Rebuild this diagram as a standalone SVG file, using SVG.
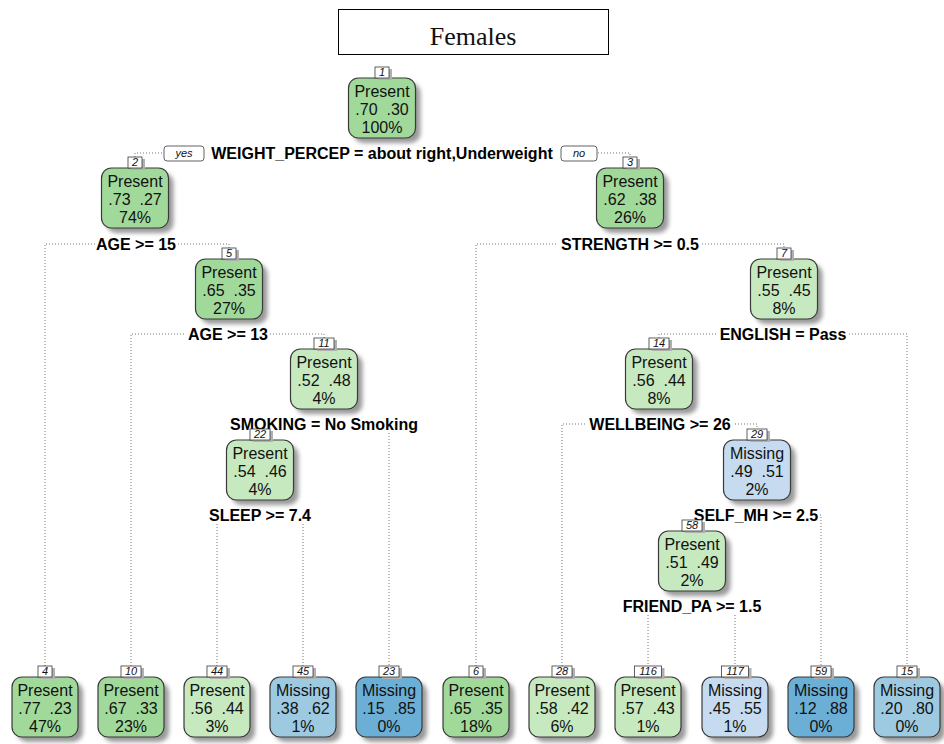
<svg xmlns="http://www.w3.org/2000/svg" width="944" height="744" viewBox="0 0 944 744">
<style>
.bg{fill:#fff}
.title{fill:#fff;stroke:#000;stroke-width:1}
.tt{font-family:"Liberation Serif","Times New Roman",serif;font-size:26px;text-anchor:middle;fill:#111}
.box{stroke:#3a3a3a;stroke-width:1.2}
.sh{fill:#9a9a9a;filter:url(#blur)}
.g1{fill:#a1d99b}
.g2{fill:#c7e9c0}
.b1{fill:#c6dbef}
.b2{fill:#9ecae1}
.b3{fill:#6baed6}
.lbox{fill:#fff;stroke:#3a3a3a;stroke-width:0.8}
.lsh{fill:#b0b0b0}
.lt{font-family:"Liberation Sans",Arial,sans-serif;font-size:11px;font-style:italic;text-anchor:middle;fill:#111}
.nt{font-family:"Liberation Sans",Arial,sans-serif;font-size:16px;text-anchor:middle;fill:#111}
.sp{font-family:"Liberation Sans",Arial,sans-serif;font-size:16px;font-weight:bold;text-anchor:middle;fill:#000}
.ln{fill:none;stroke:#777;stroke-width:1;stroke-dasharray:1 2}
.yn{fill:#fff;stroke:#3a3a3a;stroke-width:0.8}
</style>
<defs>
<filter id="blur" x="-30%" y="-30%" width="160%" height="160%"><feGaussianBlur stdDeviation="2"/></filter>
</defs>
<rect class="bg" x="0" y="0" width="944" height="744"/>
<g id="title">
<rect class="title" x="338.5" y="9.5" width="270" height="45"/>
<text class="tt" x="473" y="45">Females</text>
</g>
<g id="connectors">
<path class="ln" d="M135,157 V153 H163"/>
<path class="ln" d="M598,153 H630 V157"/>
<path class="ln" d="M45,666 V244 H95"/>
<path class="ln" d="M178,244 H229 V248"/>
<path class="ln" d="M476,666 V244 H557"/>
<path class="ln" d="M702,244 H784 V248"/>
<path class="ln" d="M131,666 V334 H186"/>
<path class="ln" d="M270,334 H324 V338"/>
<path class="ln" d="M659,338 V334 H717"/>
<path class="ln" d="M849,334 H907 V666"/>
<path class="ln" d="M389,433 V666"/>
<path class="ln" d="M562,666 V424 H585"/>
<path class="ln" d="M735,424 H757 V429"/>
<path class="ln" d="M217,524 V666"/>
<path class="ln" d="M303,524 V666"/>
<path class="ln" d="M820,515 H821 V666"/>
<path class="ln" d="M648,615 V666"/>
<path class="ln" d="M735,615 V666"/>
</g>
<g id="splits">
<rect class="yn" x="164" y="146" width="40" height="15" rx="3"/>
<text class="lt" x="184" y="157">yes</text>
<text class="sp" x="382" y="159">WEIGHT_PERCEP = about right,Underweight</text>
<rect class="yn" x="561" y="146" width="36" height="15" rx="3"/>
<text class="lt" x="579" y="157">no</text>
<text class="sp" x="136" y="250">AGE &gt;= 15</text>
<text class="sp" x="630" y="250">STRENGTH &gt;= 0.5</text>
<text class="sp" x="228" y="340">AGE &gt;= 13</text>
<text class="sp" x="783" y="340">ENGLISH = Pass</text>
<text class="sp" x="324" y="430">SMOKING = No Smoking</text>
<text class="sp" x="660" y="430">WELLBEING &gt;= 26</text>
<text class="sp" x="260" y="521">SLEEP &gt;= 7.4</text>
<text class="sp" x="756" y="521">SELF_MH &gt;= 2.5</text>
<text class="sp" x="692" y="612">FRIEND_PA &gt;= 1.5</text>
</g>
<g id="node1" transform="translate(382,78)">
<rect class="sh" x="-28.5" y="5" width="67" height="60" rx="10"/>
<rect class="box g1" x="-33.5" y="0" width="67" height="60" rx="10"/>
<rect class="lsh" x="-4" y="-9" width="14" height="11"/>
<rect class="lbox" x="-7" y="-11" width="14" height="11"/>
<text class="lt" x="0" y="-2">1</text>
<text class="nt" x="0" y="19">Present</text>
<text class="nt" x="0" y="37">.70&#160;&#160;.30</text>
<text class="nt" x="0" y="55">100%</text>
</g>
<g id="node2" transform="translate(135,168)">
<rect class="sh" x="-28.5" y="5" width="67" height="60" rx="10"/>
<rect class="box g1" x="-33.5" y="0" width="67" height="60" rx="10"/>
<rect class="lsh" x="-4" y="-9" width="14" height="11"/>
<rect class="lbox" x="-7" y="-11" width="14" height="11"/>
<text class="lt" x="0" y="-2">2</text>
<text class="nt" x="0" y="19">Present</text>
<text class="nt" x="0" y="37">.73&#160;&#160;.27</text>
<text class="nt" x="0" y="55">74%</text>
</g>
<g id="node3" transform="translate(630,168)">
<rect class="sh" x="-28.5" y="5" width="67" height="60" rx="10"/>
<rect class="box g1" x="-33.5" y="0" width="67" height="60" rx="10"/>
<rect class="lsh" x="-4" y="-9" width="14" height="11"/>
<rect class="lbox" x="-7" y="-11" width="14" height="11"/>
<text class="lt" x="0" y="-2">3</text>
<text class="nt" x="0" y="19">Present</text>
<text class="nt" x="0" y="37">.62&#160;&#160;.38</text>
<text class="nt" x="0" y="55">26%</text>
</g>
<g id="node5" transform="translate(229,259)">
<rect class="sh" x="-28.5" y="5" width="67" height="60" rx="10"/>
<rect class="box g1" x="-33.5" y="0" width="67" height="60" rx="10"/>
<rect class="lsh" x="-4" y="-9" width="14" height="11"/>
<rect class="lbox" x="-7" y="-11" width="14" height="11"/>
<text class="lt" x="0" y="-2">5</text>
<text class="nt" x="0" y="19">Present</text>
<text class="nt" x="0" y="37">.65&#160;&#160;.35</text>
<text class="nt" x="0" y="55">27%</text>
</g>
<g id="node7" transform="translate(784,259)">
<rect class="sh" x="-28.5" y="5" width="67" height="60" rx="10"/>
<rect class="box g2" x="-33.5" y="0" width="67" height="60" rx="10"/>
<rect class="lsh" x="-4" y="-9" width="14" height="11"/>
<rect class="lbox" x="-7" y="-11" width="14" height="11"/>
<text class="lt" x="0" y="-2">7</text>
<text class="nt" x="0" y="19">Present</text>
<text class="nt" x="0" y="37">.55&#160;&#160;.45</text>
<text class="nt" x="0" y="55">8%</text>
</g>
<g id="node11" transform="translate(324,349)">
<rect class="sh" x="-28.5" y="5" width="67" height="60" rx="10"/>
<rect class="box g2" x="-33.5" y="0" width="67" height="60" rx="10"/>
<rect class="lsh" x="-7" y="-9" width="20" height="11"/>
<rect class="lbox" x="-10" y="-11" width="20" height="11"/>
<text class="lt" x="0" y="-2">11</text>
<text class="nt" x="0" y="19">Present</text>
<text class="nt" x="0" y="37">.52&#160;&#160;.48</text>
<text class="nt" x="0" y="55">4%</text>
</g>
<g id="node14" transform="translate(659,349)">
<rect class="sh" x="-28.5" y="5" width="67" height="60" rx="10"/>
<rect class="box g2" x="-33.5" y="0" width="67" height="60" rx="10"/>
<rect class="lsh" x="-7" y="-9" width="20" height="11"/>
<rect class="lbox" x="-10" y="-11" width="20" height="11"/>
<text class="lt" x="0" y="-2">14</text>
<text class="nt" x="0" y="19">Present</text>
<text class="nt" x="0" y="37">.56&#160;&#160;.44</text>
<text class="nt" x="0" y="55">8%</text>
</g>
<g id="node22" transform="translate(260,440)">
<rect class="sh" x="-28.5" y="5" width="67" height="60" rx="10"/>
<rect class="box g2" x="-33.5" y="0" width="67" height="60" rx="10"/>
<rect class="lsh" x="-7" y="-9" width="20" height="11"/>
<rect class="lbox" x="-10" y="-11" width="20" height="11"/>
<text class="lt" x="0" y="-2">22</text>
<text class="nt" x="0" y="19">Present</text>
<text class="nt" x="0" y="37">.54&#160;&#160;.46</text>
<text class="nt" x="0" y="55">4%</text>
</g>
<g id="node29" transform="translate(757,440)">
<rect class="sh" x="-28.5" y="5" width="67" height="60" rx="10"/>
<rect class="box b1" x="-33.5" y="0" width="67" height="60" rx="10"/>
<rect class="lsh" x="-7" y="-9" width="20" height="11"/>
<rect class="lbox" x="-10" y="-11" width="20" height="11"/>
<text class="lt" x="0" y="-2">29</text>
<text class="nt" x="0" y="19">Missing</text>
<text class="nt" x="0" y="37">.49&#160;&#160;.51</text>
<text class="nt" x="0" y="55">2%</text>
</g>
<g id="node58" transform="translate(692,531)">
<rect class="sh" x="-28.5" y="5" width="67" height="60" rx="10"/>
<rect class="box g2" x="-33.5" y="0" width="67" height="60" rx="10"/>
<rect class="lsh" x="-7" y="-9" width="20" height="11"/>
<rect class="lbox" x="-10" y="-11" width="20" height="11"/>
<text class="lt" x="0" y="-2">58</text>
<text class="nt" x="0" y="19">Present</text>
<text class="nt" x="0" y="37">.51&#160;&#160;.49</text>
<text class="nt" x="0" y="55">2%</text>
</g>
<g id="leaf4" transform="translate(45,677)">
<rect class="sh" x="-28" y="5" width="66" height="60" rx="10"/>
<rect class="box g1" x="-33" y="0" width="66" height="60" rx="10"/>
<rect class="lsh" x="-4" y="-9" width="14" height="11"/>
<rect class="lbox" x="-7" y="-11" width="14" height="11"/>
<text class="lt" x="0" y="-2">4</text>
<text class="nt" x="0" y="19">Present</text>
<text class="nt" x="0" y="37">.77&#160;&#160;.23</text>
<text class="nt" x="0" y="55">47%</text>
</g>
<g id="leaf10" transform="translate(131,677)">
<rect class="sh" x="-28" y="5" width="66" height="60" rx="10"/>
<rect class="box g1" x="-33" y="0" width="66" height="60" rx="10"/>
<rect class="lsh" x="-7" y="-9" width="20" height="11"/>
<rect class="lbox" x="-10" y="-11" width="20" height="11"/>
<text class="lt" x="0" y="-2">10</text>
<text class="nt" x="0" y="19">Present</text>
<text class="nt" x="0" y="37">.67&#160;&#160;.33</text>
<text class="nt" x="0" y="55">23%</text>
</g>
<g id="leaf44" transform="translate(217,677)">
<rect class="sh" x="-28" y="5" width="66" height="60" rx="10"/>
<rect class="box g2" x="-33" y="0" width="66" height="60" rx="10"/>
<rect class="lsh" x="-7" y="-9" width="20" height="11"/>
<rect class="lbox" x="-10" y="-11" width="20" height="11"/>
<text class="lt" x="0" y="-2">44</text>
<text class="nt" x="0" y="19">Present</text>
<text class="nt" x="0" y="37">.56&#160;&#160;.44</text>
<text class="nt" x="0" y="55">3%</text>
</g>
<g id="leaf45" transform="translate(303,677)">
<rect class="sh" x="-28" y="5" width="66" height="60" rx="10"/>
<rect class="box b2" x="-33" y="0" width="66" height="60" rx="10"/>
<rect class="lsh" x="-7" y="-9" width="20" height="11"/>
<rect class="lbox" x="-10" y="-11" width="20" height="11"/>
<text class="lt" x="0" y="-2">45</text>
<text class="nt" x="0" y="19">Missing</text>
<text class="nt" x="0" y="37">.38&#160;&#160;.62</text>
<text class="nt" x="0" y="55">1%</text>
</g>
<g id="leaf23" transform="translate(389,677)">
<rect class="sh" x="-28" y="5" width="66" height="60" rx="10"/>
<rect class="box b3" x="-33" y="0" width="66" height="60" rx="10"/>
<rect class="lsh" x="-7" y="-9" width="20" height="11"/>
<rect class="lbox" x="-10" y="-11" width="20" height="11"/>
<text class="lt" x="0" y="-2">23</text>
<text class="nt" x="0" y="19">Missing</text>
<text class="nt" x="0" y="37">.15&#160;&#160;.85</text>
<text class="nt" x="0" y="55">0%</text>
</g>
<g id="leaf6" transform="translate(476,677)">
<rect class="sh" x="-28" y="5" width="66" height="60" rx="10"/>
<rect class="box g1" x="-33" y="0" width="66" height="60" rx="10"/>
<rect class="lsh" x="-4" y="-9" width="14" height="11"/>
<rect class="lbox" x="-7" y="-11" width="14" height="11"/>
<text class="lt" x="0" y="-2">6</text>
<text class="nt" x="0" y="19">Present</text>
<text class="nt" x="0" y="37">.65&#160;&#160;.35</text>
<text class="nt" x="0" y="55">18%</text>
</g>
<g id="leaf28" transform="translate(562,677)">
<rect class="sh" x="-28" y="5" width="66" height="60" rx="10"/>
<rect class="box g2" x="-33" y="0" width="66" height="60" rx="10"/>
<rect class="lsh" x="-7" y="-9" width="20" height="11"/>
<rect class="lbox" x="-10" y="-11" width="20" height="11"/>
<text class="lt" x="0" y="-2">28</text>
<text class="nt" x="0" y="19">Present</text>
<text class="nt" x="0" y="37">.58&#160;&#160;.42</text>
<text class="nt" x="0" y="55">6%</text>
</g>
<g id="leaf116" transform="translate(648,677)">
<rect class="sh" x="-28" y="5" width="66" height="60" rx="10"/>
<rect class="box g2" x="-33" y="0" width="66" height="60" rx="10"/>
<rect class="lsh" x="-10.5" y="-9" width="27" height="11"/>
<rect class="lbox" x="-13.5" y="-11" width="27" height="11"/>
<text class="lt" x="0" y="-2">116</text>
<text class="nt" x="0" y="19">Present</text>
<text class="nt" x="0" y="37">.57&#160;&#160;.43</text>
<text class="nt" x="0" y="55">1%</text>
</g>
<g id="leaf117" transform="translate(735,677)">
<rect class="sh" x="-28" y="5" width="66" height="60" rx="10"/>
<rect class="box b1" x="-33" y="0" width="66" height="60" rx="10"/>
<rect class="lsh" x="-10.5" y="-9" width="27" height="11"/>
<rect class="lbox" x="-13.5" y="-11" width="27" height="11"/>
<text class="lt" x="0" y="-2">117</text>
<text class="nt" x="0" y="19">Missing</text>
<text class="nt" x="0" y="37">.45&#160;&#160;.55</text>
<text class="nt" x="0" y="55">1%</text>
</g>
<g id="leaf59" transform="translate(821,677)">
<rect class="sh" x="-28" y="5" width="66" height="60" rx="10"/>
<rect class="box b3" x="-33" y="0" width="66" height="60" rx="10"/>
<rect class="lsh" x="-7" y="-9" width="20" height="11"/>
<rect class="lbox" x="-10" y="-11" width="20" height="11"/>
<text class="lt" x="0" y="-2">59</text>
<text class="nt" x="0" y="19">Missing</text>
<text class="nt" x="0" y="37">.12&#160;&#160;.88</text>
<text class="nt" x="0" y="55">0%</text>
</g>
<g id="leaf15" transform="translate(907,677)">
<rect class="sh" x="-28" y="5" width="66" height="60" rx="10"/>
<rect class="box b2" x="-33" y="0" width="66" height="60" rx="10"/>
<rect class="lsh" x="-7" y="-9" width="20" height="11"/>
<rect class="lbox" x="-10" y="-11" width="20" height="11"/>
<text class="lt" x="0" y="-2">15</text>
<text class="nt" x="0" y="19">Missing</text>
<text class="nt" x="0" y="37">.20&#160;&#160;.80</text>
<text class="nt" x="0" y="55">0%</text>
</g>
</svg>
